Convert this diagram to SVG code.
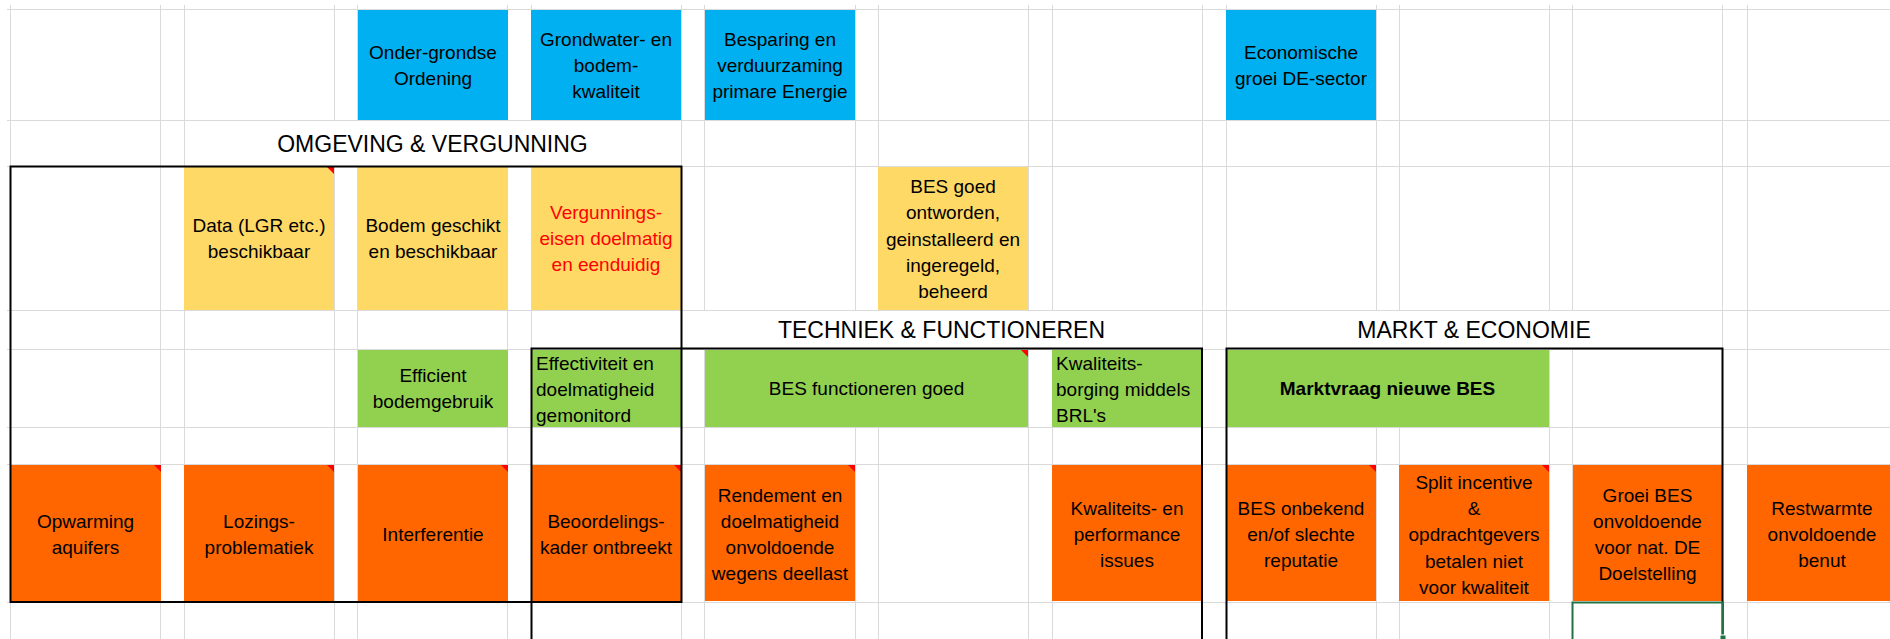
<svg xmlns="http://www.w3.org/2000/svg" width="1890" height="639" viewBox="0 0 1890 639">
<style>
.grid{stroke:#DADADA;stroke-width:1;fill:none}
.blue{fill:#00B0F0}
.yel{fill:#FFD966}
.grn{fill:#92D050}
.org{fill:#FF6600}
.t{font-family:"Liberation Sans",Arial,sans-serif;font-size:19px;fill:#000;text-anchor:middle}
.l{text-anchor:start}
.red{fill:#FF0000}
.b{font-weight:bold}
.h{font-family:"Liberation Sans",Arial,sans-serif;font-size:23px;fill:#000;text-anchor:middle}
.brd{stroke:#000;stroke-width:2;fill:none}
.tri{fill:#FF0000}
</style>
<rect width="1890" height="639" fill="#fff"/>
<g id="grid" class="grid">
<path d="M10.5,5V639M160.5,5V639M184.5,5V639M334.5,5V639M357.5,5V639M507.5,5V639M531.5,5V639M681.5,5V639M704.5,5V639M855.5,5V639M878.5,5V639M1028.5,5V639M1052.5,5V639M1202.5,5V639M1226.5,5V639M1376.5,5V639M1399.5,5V639M1549.5,5V639M1572.5,5V639M1722.5,5V639M1747.5,5V639"/>
<path d="M7,9.5H1890M7,120.5H1890M7,166.5H1890M7,310.5H1890M7,349.5H1890M7,427.5H1890M7,464.5H1890M7,602.5H1890"/>
</g>
<!-- merged header cells -->
<rect x="185" y="121" width="496" height="45" fill="#fff"/>
<rect x="682" y="311" width="520" height="38" fill="#fff"/>
<rect x="1227" y="311" width="495" height="38" fill="#fff"/>

<g id="headers">
<text class="h" x="432.5" y="152">OMGEVING &amp; VERGUNNING</text>
<text class="h" x="941.5" y="338">TECHNIEK &amp; FUNCTIONEREN</text>
<text class="h" x="1474" y="338">MARKT &amp; ECONOMIE</text>
</g>

<g id="n-ondergrondse"><rect class="blue" x="358" y="10" width="150" height="110"/>
<text class="t" x="433" y="59">Onder-grondse</text><text class="t" x="433" y="85">Ordening</text></g>
<g id="n-grondwater"><rect class="blue" x="531" y="10" width="150" height="110"/>
<text class="t" x="606" y="46">Grondwater- en</text><text class="t" x="606" y="72">bodem-</text><text class="t" x="606" y="98">kwaliteit</text></g>
<g id="n-besparing"><rect class="blue" x="705" y="10" width="150" height="110"/>
<text class="t" x="780" y="46">Besparing en</text><text class="t" x="780" y="72">verduurzaming</text><text class="t" x="780" y="98">primare Energie</text></g>
<g id="n-economische"><rect class="blue" x="1226" y="10" width="150" height="110"/>
<text class="t" x="1301" y="59">Economische</text><text class="t" x="1301" y="85">groei DE-sector</text></g>

<g id="n-data"><rect class="yel" x="184" y="167" width="150" height="143"/>
<text class="t" x="259" y="232">Data (LGR etc.)</text><text class="t" x="259" y="258">beschikbaar</text>
<polygon class="tri" points="327,167 334,167 334,174"/></g>
<g id="n-bodem"><rect class="yel" x="358" y="167" width="150" height="143"/>
<text class="t" x="433" y="232">Bodem geschikt</text><text class="t" x="433" y="258">en beschikbaar</text></g>
<g id="n-vergunnings"><rect class="yel" x="531" y="167" width="150" height="143"/>
<text class="t red" x="606" y="219">Vergunnings-</text><text class="t red" x="606" y="245">eisen doelmatig</text><text class="t red" x="606" y="271">en eenduidig</text></g>
<g id="n-besgoed"><rect class="yel" x="878" y="167" width="150" height="143"/>
<text class="t" x="953" y="193">BES goed</text><text class="t" x="953" y="219">ontworden,</text><text class="t" x="953" y="246">geinstalleerd en</text><text class="t" x="953" y="272">ingeregeld,</text><text class="t" x="953" y="298">beheerd</text></g>

<g id="n-efficient"><rect class="grn" x="358" y="350" width="150" height="77"/>
<text class="t" x="433" y="382">Efficient</text><text class="t" x="433" y="408">bodemgebruik</text></g>
<g id="n-effectiviteit"><rect class="grn" x="531" y="350" width="150" height="77"/>
<text class="t l" x="536" y="370">Effectiviteit en</text><text class="t l" x="536" y="396">doelmatigheid</text><text class="t l" x="536" y="422">gemonitord</text></g>
<g id="n-besfunctioneren"><rect class="grn" x="705" y="350" width="323" height="77"/>
<text class="t" x="866.5" y="395">BES functioneren goed</text>
<polygon class="tri" points="1021,350 1028,350 1028,357"/></g>
<g id="n-kwaliteitsborging"><rect class="grn" x="1052" y="350" width="150" height="77"/>
<text class="t l" x="1056" y="370">Kwaliteits-</text><text class="t l" x="1056" y="396">borging middels</text><text class="t l" x="1056" y="422">BRL's</text></g>
<g id="n-marktvraag"><rect class="grn" x="1226" y="350" width="323" height="77"/>
<text class="t b" x="1387.5" y="395">Marktvraag nieuwe BES</text></g>

<g id="n-opwarming"><rect class="org" x="10" y="465" width="151" height="136"/>
<text class="t" x="85.5" y="528">Opwarming</text><text class="t" x="85.5" y="554">aquifers</text>
<polygon class="tri" points="154,465 161,465 161,472"/></g>
<g id="n-lozings"><rect class="org" x="184" y="465" width="150" height="136"/>
<text class="t" x="259" y="528">Lozings-</text><text class="t" x="259" y="554">problematiek</text>
<polygon class="tri" points="327,465 334,465 334,472"/></g>
<g id="n-interferentie"><rect class="org" x="358" y="465" width="150" height="136"/>
<text class="t" x="433" y="541">Interferentie</text>
<polygon class="tri" points="501,465 508,465 508,472"/></g>
<g id="n-beoordelings"><rect class="org" x="531" y="465" width="150" height="136"/>
<text class="t" x="606" y="528">Beoordelings-</text><text class="t" x="606" y="554">kader ontbreekt</text>
<polygon class="tri" points="674,465 681,465 681,472"/></g>
<g id="n-rendement"><rect class="org" x="705" y="465" width="150" height="136"/>
<text class="t" x="780" y="502">Rendement en</text><text class="t" x="780" y="528">doelmatigheid</text><text class="t" x="780" y="554">onvoldoende</text><text class="t" x="780" y="580">wegens deellast</text>
<polygon class="tri" points="848,465 855,465 855,472"/></g>
<g id="n-kwaliteitsissues"><rect class="org" x="1052" y="465" width="150" height="136"/>
<text class="t" x="1127" y="515">Kwaliteits- en</text><text class="t" x="1127" y="541">performance</text><text class="t" x="1127" y="567">issues</text></g>
<g id="n-onbekend"><rect class="org" x="1226" y="465" width="150" height="136"/>
<text class="t" x="1301" y="515">BES onbekend</text><text class="t" x="1301" y="541">en/of slechte</text><text class="t" x="1301" y="567">reputatie</text>
<polygon class="tri" points="1369,465 1376,465 1376,472"/></g>
<g id="n-split"><rect class="org" x="1399" y="465" width="150" height="136"/>
<text class="t" x="1474" y="489">Split incentive</text><text class="t" x="1474" y="515">&amp;</text><text class="t" x="1474" y="541">opdrachtgevers</text><text class="t" x="1474" y="568">betalen niet</text><text class="t" x="1474" y="594">voor kwaliteit</text>
<polygon class="tri" points="1542,465 1549,465 1549,472"/></g>
<g id="n-groei"><rect class="org" x="1573" y="465" width="149" height="136"/>
<text class="t" x="1647.5" y="502">Groei BES</text><text class="t" x="1647.5" y="528">onvoldoende</text><text class="t" x="1647.5" y="554">voor nat. DE</text><text class="t" x="1647.5" y="580">Doelstelling</text></g>
<g id="n-restwarmte"><rect class="org" x="1747" y="465" width="150" height="136"/>
<text class="t" x="1822" y="515">Restwarmte</text><text class="t" x="1822" y="541">onvoldoende</text><text class="t" x="1822" y="567">benut</text></g>

<g id="borders">
<rect class="brd" x="10.5" y="166.5" width="671" height="435.5"/>
<path class="brd" d="M531.5,639V348.5H1202V639"/>
<path class="brd" d="M1226.5,639V348.5H1722.5V639"/>
</g>
<g id="selection">
<rect x="1572.5" y="602.5" width="150.5" height="40" fill="none" stroke="#217346" stroke-width="2"/>
<rect x="1720" y="635" width="6" height="6" fill="#217346" stroke="#fff" stroke-width="1"/>
</g>
</svg>
